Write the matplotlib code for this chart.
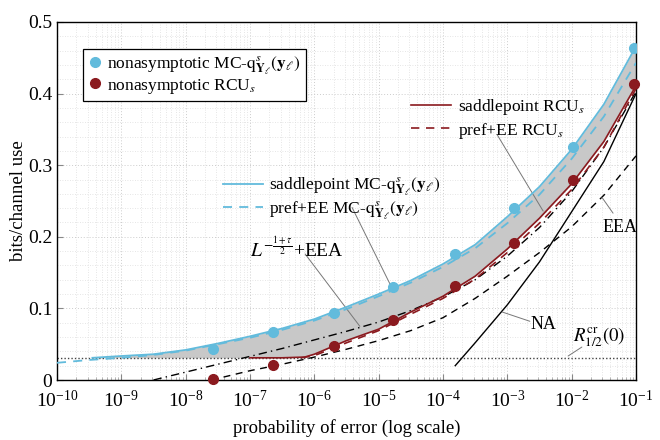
import numpy as np
import matplotlib
matplotlib.use("Agg")
import matplotlib.pyplot as plt
from matplotlib.lines import Line2D
from matplotlib.ticker import LogLocator, MultipleLocator, NullFormatter

plt.rcParams['font.family'] = ['Liberation Serif', 'DejaVu Serif']
plt.rcParams['mathtext.fontset'] = 'stix'

CYAN = '#62bbdc'
RED = '#8b1a1f'
GRAY_FILL = '#c8c8c8'

# nonasymptotic markers (log10 of error probability, rate)
mc_pts_lx = [-7.57, -6.64, -5.70, -4.78, -3.81, -2.89, -1.98, -1.03]
mc_pts_y = [0.043, 0.067, 0.094, 0.130, 0.176, 0.240, 0.326, 0.464]
rcu_pts_lx = [-7.57, -6.64, -5.70, -4.78, -3.81, -2.89, -1.98, -1.03]
rcu_pts_y = [0.002, 0.021, 0.048, 0.084, 0.131, 0.192, 0.279, 0.413]

# saddlepoint MC-q curve
sp_mc_lx = [-9.45, -9.0, -8.5, -8.0, -7.5, -7.0, -6.5, -6.0, -5.5, -5.0, -4.5, -4.0,
            -3.5, -3.0, -2.5, -2.0, -1.5, -1.0]
sp_mc_y = [0.031, 0.0335, 0.036, 0.042, 0.051, 0.061, 0.072, 0.085, 0.102, 0.120,
           0.139, 0.162, 0.189, 0.228, 0.270, 0.322, 0.385, 0.466]
# pref+EE MC-q curve
pe_mc_lx = [-10.0, -9.5, -9.0, -8.5, -8.0, -7.5, -7.0, -6.5, -6.0, -5.5, -5.0, -4.5,
            -4.0, -3.5, -3.0, -2.5, -2.0, -1.5, -1.0]
pe_mc_y = [0.024, 0.028, 0.031, 0.035, 0.041, 0.050, 0.059, 0.070, 0.083, 0.099,
           0.117, 0.136, 0.158, 0.184, 0.219, 0.259, 0.309, 0.368, 0.443]
# saddlepoint RCU curve
sp_rcu_lx = [-7.0, -6.5, -6.15, -6.0, -5.5, -5.0, -4.5, -4.0, -3.5, -3.0, -2.5, -2.0,
             -1.5, -1.0]
sp_rcu_y = [0.031, 0.031, 0.032, 0.036, 0.055, 0.071, 0.095, 0.117, 0.145, 0.183,
            0.226, 0.274, 0.333, 0.411]
# pref+EE RCU curve
pe_rcu_lx = [-6.2, -6.0, -5.5, -5.0, -4.5, -4.0, -3.5, -3.0, -2.5, -2.0, -1.5, -1.0]
pe_rcu_y = [0.031, 0.034, 0.052, 0.069, 0.092, 0.114, 0.141, 0.178, 0.219, 0.266,
            0.325, 0.407]
# L^{-(1+tau)/2}+EEA
l_eea_lx = [-8.5, -8.0, -7.5, -7.0, -6.5, -6.0, -5.5, -5.0, -4.5, -4.0, -3.5, -3.0,
            -2.5, -2.0, -1.5, -1.0]
l_eea_y = [0.0, 0.011, 0.022, 0.033, 0.044, 0.056, 0.068, 0.081, 0.097, 0.116, 0.140,
           0.173, 0.213, 0.263, 0.325, 0.403]
# EEA
eea_lx = [-7.6, -7.0, -6.5, -6.0, -5.5, -5.0, -4.5, -4.0, -3.5, -3.0, -2.5, -2.0,
          -1.5, -1.0]
eea_y = [0.0, 0.013, 0.022, 0.032, 0.043, 0.055, 0.069, 0.087, 0.114, 0.145, 0.178,
         0.214, 0.258, 0.313]
# NA
na_lx = [-3.81, -3.5, -3.0, -2.5, -2.0, -1.5, -1.0]
na_y = [0.020, 0.052, 0.105, 0.165, 0.235, 0.305, 0.400]
# critical rate
r_cr = 0.031


def px(lx):
    return np.power(10.0, np.asarray(lx))


fig = plt.figure(figsize=(6.6, 4.4), dpi=100)
ax = fig.add_axes([57/660, 60/440, 579/660, 358/440])
ax.set_xscale('log')
ax.set_xlim(1e-10, 1e-1)
ax.set_ylim(0, 0.5)

# gray fill region between saddlepoint MC-q and max(saddlepoint RCU, R_cr)
flx = np.linspace(sp_mc_lx[0], -1.0, 500)
upper = np.interp(flx, sp_mc_lx, sp_mc_y)
lower = np.maximum(np.interp(flx, sp_rcu_lx, sp_rcu_y, left=r_cr), r_cr)
ax.fill_between(px(flx), lower, upper, color=GRAY_FILL, lw=0, zorder=1)

ax.axhline(r_cr, color='#444444', ls=(0, (1, 1.5)), lw=1.0, zorder=2)

DASH = (0, (5, 4))
ax.plot(px(na_lx), na_y, color='black', lw=1.0, zorder=3)
ax.plot(px(eea_lx), eea_y, color='black', lw=1.0, ls=DASH, zorder=3)
ax.plot(px(l_eea_lx), l_eea_y, color='black', lw=1.0, ls=(0, (6, 3, 1, 3)), zorder=3)
ax.plot(px(sp_rcu_lx), sp_rcu_y, color=RED, lw=1.2, zorder=4)
ax.plot(px(pe_rcu_lx), pe_rcu_y, color=RED, lw=1.2, ls=DASH, zorder=4)
ax.plot(px(sp_mc_lx), sp_mc_y, color=CYAN, lw=1.3, zorder=4)
ax.plot(px(pe_mc_lx), pe_mc_y, color=CYAN, lw=1.3, ls=DASH, zorder=4)
ax.plot(px(mc_pts_lx), mc_pts_y, 'o', color=CYAN, ms=7, zorder=5)
ax.plot(px(rcu_pts_lx), rcu_pts_y, 'o', color=RED, ms=7, zorder=5, clip_on=False)

# grid / ticks
ax.xaxis.set_major_locator(LogLocator(base=10, numticks=20))
ax.xaxis.set_minor_locator(LogLocator(base=10, subs=np.arange(2, 10), numticks=200))
ax.xaxis.set_minor_formatter(NullFormatter())
ax.yaxis.set_major_locator(MultipleLocator(0.1))
ax.yaxis.set_minor_locator(MultipleLocator(0.02))
ax.grid(which='major', color='#cccccc', ls=(0, (1, 2)), lw=0.7)
ax.grid(which='minor', color='#dddddd', ls=(0, (1, 2)), lw=0.6)
ax.set_axisbelow(True)
ax.tick_params(which='both', direction='in', labelsize=14, top=False, right=False)
ax.tick_params(axis='x', which='major', pad=7)
ax.tick_params(which='major', length=4, color='#888888')
ax.tick_params(which='minor', length=2.5, color='#aaaaaa')
ax.tick_params(axis='y', which='minor', length=0)
ax.set_yticks([0, 0.1, 0.2, 0.3, 0.4, 0.5])
ax.set_yticklabels(['0', '0.1', '0.2', '0.3', '0.4', '0.5'])
for s in ax.spines.values():
    s.set_linewidth(1.0)

ax.set_xlabel('probability of error (log scale)', fontsize=13.5, labelpad=6)
ax.set_ylabel('bits/channel use', fontsize=13.5)
ax.yaxis.set_label_coords(-0.052, 0.5)

mcq = r'MC-$\mathrm{q}^{s}_{\mathbf{Y}_{\ell}}(\mathbf{y}_{\ell})$'
rcus = r'RCU$_{s}$'

h1 = [Line2D([], [], marker='o', color=CYAN, ls='none', ms=7),
      Line2D([], [], marker='o', color=RED, ls='none', ms=7)]
leg1 = ax.legend(h1, ['nonasymptotic ' + mcq, 'nonasymptotic ' + rcus],
                 loc='upper left', bbox_to_anchor=(0.045, 0.925), borderaxespad=0,
                 fontsize=12.5, frameon=True, fancybox=False, edgecolor='black',
                 framealpha=1, handlelength=0.8, handletextpad=0.3, borderpad=0.3,
                 labelspacing=0.0)
leg1.get_frame().set_linewidth(0.9)
ax.add_artist(leg1)

h2 = [Line2D([], [], color=RED, lw=1.2),
      Line2D([], [], color=RED, lw=1.2, ls=DASH)]
leg2 = ax.legend(h2, ['saddlepoint ' + rcus, 'pref+EE ' + rcus],
                 loc='upper left', bbox_to_anchor=(0.605, 0.80), borderaxespad=0,
                 fontsize=12.5, frameon=False, handlelength=2.3, handletextpad=0.4,
                 labelspacing=0.2, borderpad=0.2)
ax.add_artist(leg2)

h3 = [Line2D([], [], color=CYAN, lw=1.3),
      Line2D([], [], color=CYAN, lw=1.3, ls=DASH)]
leg3 = ax.legend(h3, ['saddlepoint ' + mcq, 'pref+EE ' + mcq],
                 loc='upper left', bbox_to_anchor=(0.28, 0.58), borderaxespad=0,
                 fontsize=12.5, frameon=False, handlelength=2.3, handletextpad=0.4,
                 labelspacing=0.05, borderpad=0.2)

# annotation pointers
ann = dict(arrowstyle='-', color='#777777', lw=0.7, shrinkA=0, shrinkB=0)
ax.annotate('', xy=(1.5e-5, 0.134), xytext=(3.86e-6, 0.241), arrowprops=ann)
ax.annotate('', xy=(5.1e-6, 0.075), xytext=(7.2e-7, 0.176), arrowprops=ann)
ax.annotate('', xy=(3.6e-3, 0.236), xytext=(6.9e-4, 0.343), arrowprops=ann)
ax.annotate('', xy=(4.4e-2, 0.233), xytext=(2.96e-2, 0.255), arrowprops=ann)
ax.annotate('', xy=(2.24e-3, 0.082), xytext=(8.3e-4, 0.095), arrowprops=ann)
ax.annotate('', xy=(1.44e-2, 0.046), xytext=(8.8e-3, 0.0335), arrowprops=ann)

ax.text(1.0e-7, 0.183, r'$L^{-\frac{1+\tau}{2}}$+EEA', fontsize=14, va='center', ha='left')
ax.text(3.0e-2, 0.213, 'EEA', fontsize=13, va='center', ha='left')
ax.text(2.3e-3, 0.078, 'NA', fontsize=13, va='center', ha='left')
ax.text(1.05e-2, 0.060, r'$R^{\mathrm{cr}}_{1/2}(0)$', fontsize=13.5, va='center', ha='left')

fig.savefig('out.png', dpi=100)
